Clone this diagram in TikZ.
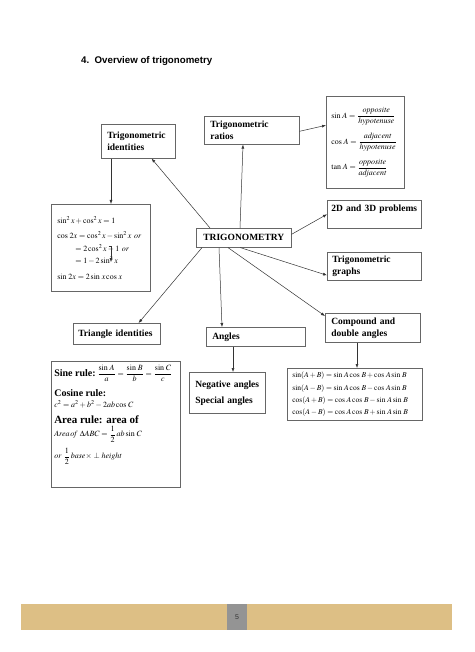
\documentclass[tikz,border=0pt]{standalone}
\usepackage{amsmath}
\usepackage{mathptmx}
\usepackage{fontspec}
\setmainfont{Liberation Serif}
\newfontfamily\headfont{Liberation Sans}
\usetikzlibrary{arrows.meta}
\definecolor{bandtan}{HTML}{DDBF85}
\definecolor{bandgray}{HTML}{949494}
\newcommand{\eqsize}{\fontsize{8}{10}\selectfont}
\newcommand{\Sin}{\sin\,}
\newcommand{\Cos}{\cos\,}
\newcommand{\Tan}{\tan\,}

\begin{document}
\begin{tikzpicture}[x=1pt,y=-1pt,
  box/.style={draw=black!60, line width=0.6pt, fill=white, anchor=north west,
    inner xsep=6pt, inner ysep=2pt, align=left},
  boxlabel/.style={font=\fontsize{9.5}{12}\selectfont\bfseries},
  link/.style={draw=black!80, line width=0.5pt, -{Latex[length=4pt,width=3pt]}}]
\useasboundingbox[fill=white] (0,0) rectangle (474,652);
% Title
\node[anchor=base west, inner sep=0pt, font=\headfont\fontsize{9.7}{12}\selectfont\bfseries]
  (title) at (81,64) {4.\ \ Overview of trigonometry};
% Drawing boxes
% centre box
\node[box, boxlabel, minimum width=95pt, minimum height=19pt, align=center] (trig) at (196,228) {TRIGONOMETRY};
% upper row
\node[box, boxlabel, text width=83pt, minimum height=28pt] (ratios) at (204,116) {Trigonometric\\ratios};
\node[box, boxlabel, text width=62pt, minimum height=34pt] (ident) at (101,124) {Trigonometric\\identities};
\node[box, text width=72pt, minimum height=92pt, inner xsep=3pt, font=\fontsize{8}{10}\selectfont] (ratioseq) at (326,96) {%
  \hspace*{2pt}$\Sin A=\dfrac{\mathit{opposite}}{\mathit{hypotenuse}}$\\[7pt]
  \hspace*{2pt}$\Cos A=\dfrac{\mathit{adjacent}}{\mathit{hypotenuse}}$\\[7pt]
  \hspace*{2pt}$\Tan A=\dfrac{\mathit{opposite}}{\mathit{adjacent}}$};
\node[box, text width=87pt, minimum height=87pt, font=\fontsize{8}{12.5}\selectfont] (identeq) at (51,204) {%
  $\sin^2 x+\cos^2 x=1$\\[3pt]
  $\Cos 2x=\cos^2 x-\sin^2 x\ \mathit{or}$\\
  \hspace*{18pt}$=2\cos^2 x-1\ \mathit{or}$\\
  \hspace*{18pt}$=1-2\sin^2 x$\\[3pt]
  $\Sin 2x=2\Sin x\Cos x$};
% right column
\node[box, boxlabel, text width=86pt, minimum height=28pt, inner xsep=4pt] (twod) at (327,200) {2D and 3D problems\\\mbox{}};
\node[box, boxlabel, text width=84pt, minimum height=28pt, inner xsep=5pt] (graphs) at (327,252) {Trigonometric\\graphs};
\node[box, boxlabel, text width=83pt, minimum height=29pt] (compound) at (325,313) {Compound and\\double angles};
\node[box, text width=125pt, minimum height=52pt, inner xsep=5pt, font=\fontsize{7.6}{12.3}\selectfont] (compeq) at (287,368) {%
  $\sin(A+B)=\Sin A\Cos B+\Cos A\Sin B$\\
  $\sin(A-B)=\Sin A\Cos B-\Cos A\Sin B$\\
  $\cos(A+B)=\Cos A\Cos B-\Sin A\Sin B$\\
  $\cos(A-B)=\Cos A\Cos B+\Sin A\Sin B$};
% lower row
\node[box, boxlabel, text width=77pt, minimum height=21pt, inner xsep=5pt] (triangle) at (73,323) {Triangle identities};
\node[box, boxlabel, text width=87pt, minimum height=19pt] (angles) at (206,327) {Angles};
\node[box, boxlabel, text width=64pt, minimum height=41pt] (negative) at (189,372) {Negative angles\\[4pt]Special angles};
\node[box, inner xsep=3pt, inner ysep=4pt] (areaeq) at (51,361) {\parbox[c][118pt][t]{123pt}{\raggedright
  \fontsize{10}{12}\selectfont\textbf{Sine rule:}\,{\eqsize$\dfrac{\Sin A}{a}=\dfrac{\Sin B}{b}=\dfrac{\Sin C}{c}$}\\[7pt]
  \textbf{Cosine rule:}\\[-1pt]
  {\eqsize$c^2=a^2+b^2-2ab\Cos C$}\\[4pt]
  {\fontsize{11}{13}\selectfont\textbf{Area rule: area of}}\\[1pt]
  {\eqsize$\mathit{Area\,of}\ \Delta ABC=\dfrac{1}{2}\,ab\Sin C$}\\[5pt]
  {\eqsize$\mathit{or}\ \dfrac{1}{2}\,\mathit{base}{\times}\perp\mathit{height}$}}};
% Done with boxes; drawing arrows
\draw[link] ([xshift=14pt]trig.north west) -- ([xshift=-24pt]ident.south east);
\draw[link] ([xshift=44pt]trig.north west) -- ([xshift=39pt]ratios.south west);
\draw[link] ([yshift=-1pt]ratios.east) -- ([yshift=17pt]ratioseq.west);
\draw[link] ([xshift=10pt]ident.south west) -- ([xshift=60pt]identeq.north west);
\draw[link] ([yshift=3.5pt]trig.east) -- (twod.west);
\draw[link] ([xshift=-3.5pt]trig.south) -- ([yshift=-9pt]graphs.west);
\draw[link] ([xshift=32pt]trig.south west) -- ([yshift=-3pt]compound.north west);
\draw[link] ([xshift=23pt]trig.south west) -- ([xshift=16pt]angles.north west);
\draw[link] ([xshift=6pt]trig.south west) -- ([xshift=-22pt]triangle.north east);
\draw[link] ([xshift=27pt]angles.south west) -- ([xshift=44pt]negative.north west);
\draw[link] ([xshift=32pt]compound.south west) -- ([xshift=70pt]compeq.north west);
% small stray arrow inside the identities box
\coordinate (straytop) at (108.5,246);
\coordinate (straytip) at (111,262);
\draw[link, line width=0.4pt] (straytop) -| (straytip);
% Done with arrows; drawing page band
\fill[bandtan] (21,604) rectangle (452,630);
\fill[bandgray] (227,604) rectangle (247,630);
\node[font=\headfont\fontsize{7}{8}\selectfont, text=black!80] (pagenum) at (237,617) {5};
\end{tikzpicture}
\end{document}
